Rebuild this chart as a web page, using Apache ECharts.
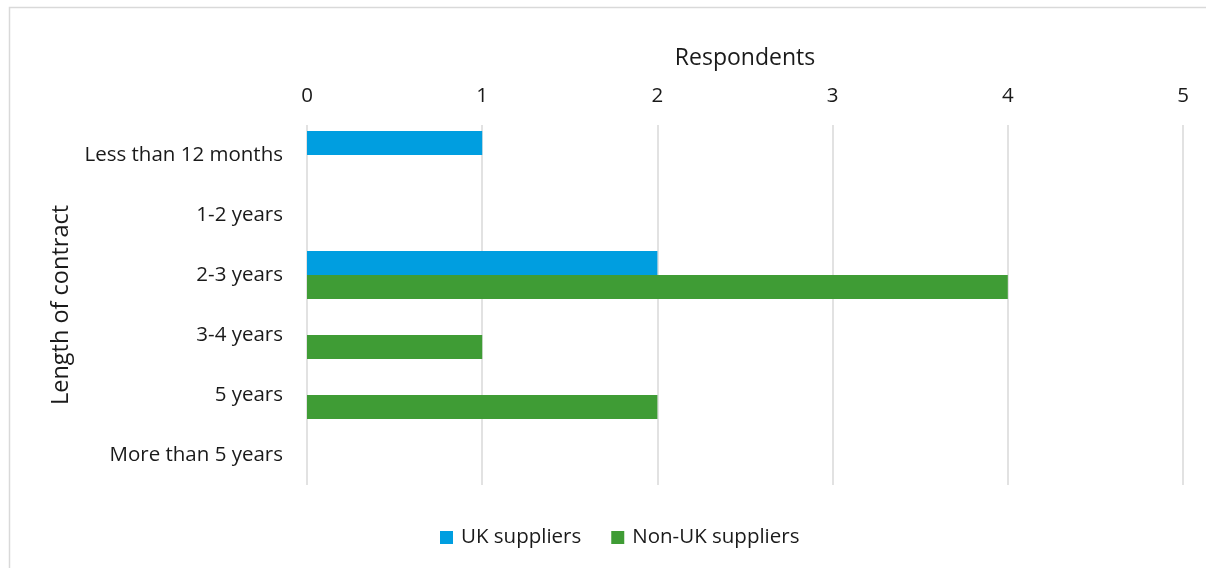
<!DOCTYPE html>
<html><head><meta charset="utf-8">
<script src="https://cdn.jsdelivr.net/npm/echarts@6/dist/echarts.min.js"></script>
<style>html,body{margin:0;padding:0;background:#fff}#c{width:1206px;height:568px}</style>
</head><body><div id="c"></div>
<script>
const categories = ["Less than 12 months","1-2 years","2-3 years","3-4 years","5 years","More than 5 years"];
const ukSuppliers = [1,0,2,0,0,0];
const nonUkSuppliers = [0,0,4,1,2,0];
const seriesNames = ["UK suppliers","Non-UK suppliers"];
const FONT = "Open Sans";
const chart = echarts.init(document.getElementById('c'), null, {renderer:'canvas'});
chart.setOption({
  animation:false,
  backgroundColor:'#fff',
  graphic:[{type:'rect',shape:{x:9.5,y:7.5,width:1250,height:600},style:{fill:'none',stroke:'#d9d9d9',lineWidth:1.5},silent:true}],
  grid:{left:307,right:23,top:125,bottom:83,containLabel:false},
  legend:{bottom:15,left:435,itemWidth:13,itemHeight:13,itemGap:30,icon:'rect',
    textStyle:{fontFamily:FONT,fontSize:20.5,color:'#1a1a1a',padding:[0,0,0,3]},
    data:[{name:seriesNames[0],itemStyle:{color:'#009ee0',borderWidth:0}},{name:seriesNames[1],itemStyle:{color:'#3f9c35',borderWidth:0}}]},
  xAxis:{type:'value',position:'top',min:0,max:5,interval:1,
    name:'Respondents',nameLocation:'middle',nameGap:55,
    nameTextStyle:{fontFamily:FONT,fontSize:23,color:'#1a1a1a'},
    axisLine:{show:false},axisTick:{show:false},
    axisLabel:{fontFamily:FONT,fontSize:20.5,color:'#1a1a1a',margin:18},
    splitLine:{show:true,lineStyle:{color:'#d9d9d9',width:1.5}}},
  yAxis:{type:'category',data:categories,inverse:true,
    name:'Length of contract',nameLocation:'middle',nameGap:233,nameRotate:90,
    nameTextStyle:{fontFamily:FONT,fontSize:23.5,color:'#1a1a1a'},
    axisLine:{show:false},axisTick:{show:false},
    axisLabel:{fontFamily:FONT,fontSize:20.5,color:'#1a1a1a',margin:24}},
  series:[
    {name:seriesNames[0],type:'bar',data:ukSuppliers,barGap:'0%',barCategoryGap:'20%',
     itemStyle:{color:'#009ee0'}},
    {name:seriesNames[1],type:'bar',data:nonUkSuppliers,barGap:'0%',barCategoryGap:'20%',
     itemStyle:{color:'#3f9c35'}}
  ]
});
</script></body></html>
